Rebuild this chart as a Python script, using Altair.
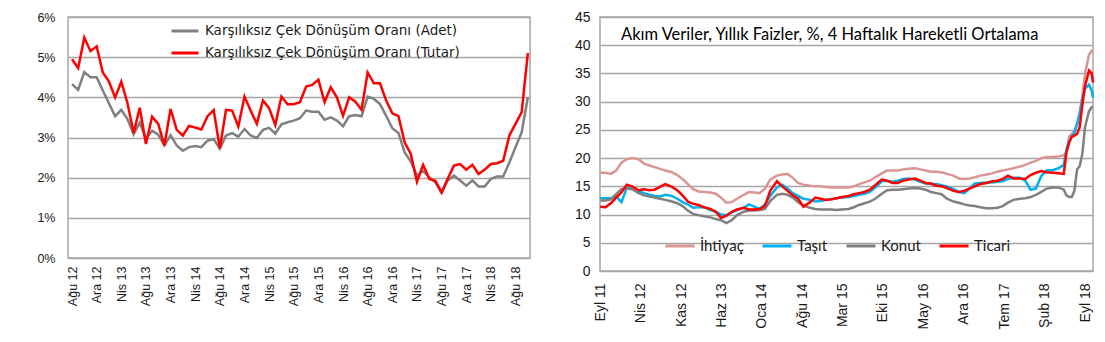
import altair as alt
import pandas as pd

# ---------------- Left panel: monthly bounced-cheque ratios ----------------
LEFT_TICKS = ["Ağu 12", "Ara 12", "Nis 13", "Ağu 13", "Ara 13", "Nis 14", "Ağu 14",
              "Ara 14", "Nis 15", "Ağu 15", "Ara 15", "Nis 16", "Ağu 16", "Ara 16",
              "Nis 17", "Ağu 17", "Ara 17", "Nis 18", "Ağu 18"]
S_ADET = "Karşılıksız Çek Dönüşüm Oranı (Adet)"
S_TUTAR = "Karşılıksız Çek Dönüşüm Oranı (Tutar)"

ADET = [4.33, 4.19, 4.63, 4.50, 4.50, 4.17, 3.85, 3.53, 3.69, 3.46,
        3.08, 3.37, 2.97, 3.17, 3.07, 2.80, 3.06, 2.80, 2.67, 2.76,
        2.79, 2.76, 2.92, 2.96, 2.72, 3.05, 3.11, 3.02, 3.21, 3.05,
        2.99, 3.19, 3.24, 3.10, 3.33, 3.38, 3.42, 3.48, 3.67, 3.64,
        3.64, 3.44, 3.50, 3.42, 3.28, 3.53, 3.56, 3.53, 4.02, 3.96,
        3.83, 3.54, 3.23, 3.11, 2.63, 2.40, 2.05, 2.17, 2.01, 1.88,
        1.63, 1.93, 2.05, 1.93, 1.80, 1.93, 1.78, 1.78, 1.97, 2.03,
        2.03, 2.38, 2.76, 3.13, 4.00]
TUTAR = [4.95, 4.73, 5.49, 5.15, 5.27, 4.62, 4.39, 4.00, 4.39, 3.86,
         3.11, 3.74, 2.84, 3.52, 3.34, 2.80, 3.71, 3.19, 3.05, 3.29,
         3.25, 3.20, 3.53, 3.68, 2.73, 3.69, 3.67, 3.27, 4.02, 3.67,
         3.34, 3.92, 3.73, 3.31, 4.02, 3.83, 3.83, 3.88, 4.27, 4.31,
         4.44, 3.88, 4.25, 4.00, 3.54, 4.00, 3.89, 3.69, 4.62, 4.35,
         4.35, 3.92, 3.60, 3.53, 2.88, 2.59, 1.90, 2.32, 1.97, 1.92,
         1.63, 1.98, 2.30, 2.34, 2.20, 2.32, 2.09, 2.20, 2.34, 2.36,
         2.42, 3.05, 3.34, 3.63, 5.10]

# ---------------- Right panel: weekly loan rates ----------------
RIGHT_START = "2011-09-02"   # first weekly observation
RIGHT_TICK_DATES = ["2011-09-01", "2012-04-01", "2012-11-01", "2013-06-01", "2014-01-01",
                    "2014-08-01", "2015-03-01", "2015-10-01", "2016-05-01", "2016-12-01",
                    "2017-07-01", "2018-02-01", "2018-09-01"]
RIGHT_TICKS = ["Eyl 11", "Nis 12", "Kas 12", "Haz 13", "Oca 14", "Ağu 14", "Mar 15",
               "Eki 15", "May 16", "Ara 16", "Tem 17", "Şub 18", "Eyl 18"]
SERIES_R = ["İhtiyaç", "Taşıt", "Konut", "Ticari"]
TITLE_R = "Akım Veriler, Yıllık Faizler, %, 4 Haftalık Hareketli Ortalama"

WEEKS = [0, 4, 8, 12, 16, 20, 24, 29, 33, 37,
         41, 45, 49, 54, 58, 62, 66, 70, 74, 78,
         83, 87, 91, 95, 99, 103, 108, 112, 116, 120,
         124, 128, 133, 137, 141, 145, 149, 153, 158, 162,
         166, 170, 174, 178, 182, 187, 191, 195, 199, 203,
         207, 212, 216, 220, 224, 228, 232, 237, 241, 245,
         249, 253, 257, 261, 266, 270, 274, 278, 282, 286,
         291, 295, 299, 303, 307, 311, 316, 320, 324, 328,
         332, 336, 341, 345, 349,
         351, 353, 355, 357, 359, 361, 363, 365, 368, 370, 371]
IHTIYAC = [17.4, 17.4, 17.2, 17.8, 19.2, 19.8, 20.0, 19.8, 19.0, 18.7,
           18.4, 18.1, 17.8, 17.5, 17.0, 16.3, 15.4, 14.5, 14.1, 14.0,
           13.9, 13.7, 13.0, 12.1, 12.2, 12.8, 13.5, 14.0, 13.9, 13.8,
           14.6, 16.2, 16.9, 17.1, 17.2, 16.5, 15.6, 15.3, 15.1, 15.0,
           15.0, 14.9, 14.8, 14.8, 14.8, 14.8, 15.0, 15.4, 15.7, 16.0,
           16.6, 17.3, 17.8, 17.8, 17.8, 18.0, 18.1, 18.2, 18.0, 17.8,
           17.6, 17.6, 17.5, 17.2, 16.9, 16.4, 16.3, 16.4, 16.6, 16.9,
           17.1, 17.3, 17.6, 17.8, 18.0, 18.2, 18.5, 18.8, 19.2, 19.5,
           20.0, 20.2, 20.2, 20.3, 20.5,
           21.0, 23.8, 24.3, 24.8, 26.0, 28.0, 31.0, 35.0, 38.3, 39.0, 39.2]
TASIT = [12.9, 12.9, 12.9, 13.2, 12.2, 14.7, 15.0, 14.2, 13.8, 13.5,
         13.3, 13.2, 13.5, 13.3, 12.8, 12.2, 11.8, 11.2, 11.3, 11.3,
         10.8, 10.5, 10.0, 9.9, 10.4, 10.8, 11.2, 11.8, 11.4, 11.0,
         11.8, 13.3, 14.8, 15.3, 14.6, 13.8, 13.3, 12.8, 12.6, 12.3,
         12.4, 12.6, 12.7, 12.9, 13.0, 13.1, 13.3, 13.5, 13.7, 14.0,
         14.8, 15.9, 16.0, 15.8, 16.0, 16.3, 16.4, 16.2, 15.8, 15.5,
         15.4, 15.4, 15.2, 15.0, 14.5, 14.0, 13.8, 14.6, 15.5, 15.6,
         15.7, 15.7, 15.8, 15.9, 16.3, 16.5, 16.5, 16.0, 14.4, 14.6,
         16.8, 17.8, 17.9, 18.2, 18.8,
         21.5, 23.0, 23.8, 24.5, 26.0, 28.0, 30.5, 32.3, 33.0, 32.0, 30.7]
KONUT = [12.5, 12.5, 12.7, 13.6, 14.5, 14.6, 14.5, 13.8, 13.4, 13.2,
         13.0, 12.8, 12.6, 12.3, 12.0, 11.5, 10.7, 10.1, 9.9, 9.7,
         9.5, 9.2, 9.0, 8.5, 9.0, 9.9, 10.5, 10.7, 10.7, 10.8,
         11.0, 12.4, 13.5, 13.7, 13.5, 13.0, 12.2, 11.6, 11.2, 11.0,
         10.9, 10.9, 10.9, 10.8, 10.9, 11.0, 11.3, 11.7, 12.0, 12.3,
         12.8, 13.7, 14.3, 14.4, 14.4, 14.5, 14.6, 14.7, 14.6, 14.4,
         14.0, 13.8, 13.6, 12.8, 12.3, 12.1, 11.8, 11.6, 11.5, 11.3,
         11.1, 11.1, 11.2, 11.5, 12.1, 12.6, 12.8, 12.9, 13.1, 13.5,
         14.0, 14.6, 14.8, 14.8, 14.4,
         13.4, 13.1, 13.1, 14.2, 18.0, 18.6, 20.8, 25.5, 28.3, 29.0, 29.0]
TICARI = [11.4, 11.3, 12.0, 13.0, 13.9, 15.3, 15.0, 14.3, 14.5, 14.3,
          14.4, 14.9, 15.4, 14.9, 14.3, 13.4, 12.3, 11.9, 11.7, 11.3,
          11.0, 10.5, 9.4, 9.8, 10.5, 10.9, 11.2, 10.9, 10.9, 11.0,
          11.5, 14.2, 15.9, 15.0, 14.2, 13.4, 12.8, 11.4, 12.2, 13.0,
          12.8, 12.6, 12.7, 12.9, 13.1, 13.3, 13.6, 13.8, 14.0, 14.4,
          15.2, 16.2, 16.0, 15.6, 15.6, 16.0, 16.2, 16.4, 16.0, 15.6,
          15.5, 15.1, 15.0, 14.7, 14.2, 14.0, 14.2, 14.6, 15.0, 15.4,
          15.6, 15.9, 16.0, 16.3, 16.9, 16.4, 16.4, 16.3, 17.0, 17.4,
          17.7, 17.5, 17.4, 17.3, 17.2,
          21.0, 22.7, 23.8, 24.0, 24.3, 25.5, 29.5, 32.8, 35.5, 35.0, 33.4]

GRID = "#a6a6a6"
TXT = "#1a1a1a"

# ---------- left chart ----------
n_left = len(ADET)
left_df = pd.DataFrame({
    "i": list(range(n_left)) * 2,
    "v": ADET + TUTAR,
    "s": [S_ADET] * n_left + [S_TUTAR] * n_left,
})
left_expr = "[" + ",".join("'%s'" % t for t in LEFT_TICKS) + "][round(datum.value / 4)]"

left_lines = alt.Chart(left_df).mark_line(strokeWidth=2.5).encode(
    x=alt.X("i:Q",
            scale=alt.Scale(domain=[-0.65, n_left - 0.65], nice=False, zero=False),
            axis=alt.Axis(values=list(range(0, 73, 4)), labelExpr=left_expr, labelAngle=-90,
                          title=None, grid=False, ticks=False, domain=False,
                          labelFont="Liberation Sans", labelFontSize=12.5, labelColor=TXT,
                          labelPadding=8, labelOverlap=False)),
    y=alt.Y("v:Q",
            scale=alt.Scale(domain=[0, 6], nice=False),
            axis=alt.Axis(values=[0, 1, 2, 3, 4, 5, 6], labelExpr="datum.value + '%'",
                          title=None, grid=True, gridColor=GRID, gridWidth=1.5,
                          ticks=False, domain=False, labelFont="Liberation Sans",
                          labelFontSize=12.5, labelColor=TXT, labelPadding=13)),
    color=alt.Color("s:N",
                    scale=alt.Scale(domain=[S_ADET, S_TUTAR], range=["#808080", "#ff0000"]),
                    legend=alt.Legend(title=None, orient="none", legendX=102, legendY=-1,
                                      direction="vertical", symbolType="stroke",
                                      symbolSize=729, symbolStrokeWidth=3, labelOffset=5,
                                      labelFont="DejaVu Sans", labelFontSize=13.5,
                                      labelColor=TXT, rowPadding=0, padding=0,
                                      labelLimit=400)),
)
# invisible spacer so the left plot area sits a few pixels lower than the right one
spacer = alt.Chart(pd.DataFrame({"a": [0]})).mark_rule(opacity=0, color="white").encode(
    x=alt.value(0), x2=alt.value(5), y=alt.value(-12))
left = alt.layer(left_lines, spacer).properties(width=462, height=241)

# ---------- right chart ----------
start = pd.Timestamp(RIGHT_START)
tick_pos = [(pd.Timestamp(d) - start).days / 7 for d in RIGHT_TICK_DATES]
n_r = len(WEEKS)
right_df = pd.DataFrame({
    "w": WEEKS * 4,
    "v": IHTIYAC + TASIT + KONUT + TICARI,
    "s": sum([[s] * n_r for s in SERIES_R], []),
})
right_expr = "[" + ",".join("'%s'" % t for t in RIGHT_TICKS) + "][round(datum.value / 30.44)]"

right = alt.Chart(right_df).mark_line(strokeWidth=2.5).encode(
    x=alt.X("w:Q",
            scale=alt.Scale(domain=[tick_pos[0], WEEKS[-1]], nice=False, zero=False),
            axis=alt.Axis(values=tick_pos, labelExpr=right_expr, labelAngle=-90, title=None,
                          grid=False, ticks=False, domain=False, labelFont="Liberation Sans",
                          labelFontSize=14, labelColor=TXT, labelPadding=12,
                          labelOverlap=False)),
    y=alt.Y("v:Q",
            scale=alt.Scale(domain=[0, 45], nice=False),
            axis=alt.Axis(values=list(range(0, 46, 5)), title=None, grid=True, gridColor=GRID,
                          gridWidth=1.5, ticks=False, domain=False, labelFont="Liberation Sans",
                          labelFontSize=14, labelColor=TXT, labelPadding=10)),
    color=alt.Color("s:N",
                    scale=alt.Scale(domain=SERIES_R,
                                    range=["#d99694", "#00b0f0", "#808080", "#ff0000"]),
                    legend=alt.Legend(title=None, orient="none", legendX=64, legendY=213,
                                      direction="horizontal", symbolType="stroke",
                                      symbolSize=841, symbolStrokeWidth=3, labelOffset=4,
                                      labelFont="Lato", labelFontSize=15, labelColor=TXT,
                                      columnPadding=12, gridAlign="each", padding=0)),
).properties(
    width=493, height=254,
    title=alt.TitleParams(text=TITLE_R, anchor="start", frame="group", orient="top",
                          offset=-41, dx=21, font="Lato", fontSize=16.5,
                          fontWeight="normal", color="#000000", baseline="middle"),
)

chart = alt.hconcat(left, right, spacing=39).resolve_scale(
    color="independent"
).resolve_legend(
    color="independent"
).properties(
    padding={"left": 36, "top": 4, "right": 0, "bottom": 0}
).configure_view(stroke=GRID, strokeWidth=1.5)

chart.save("out.html", embed_options={"renderer": "svg", "actions": False})
